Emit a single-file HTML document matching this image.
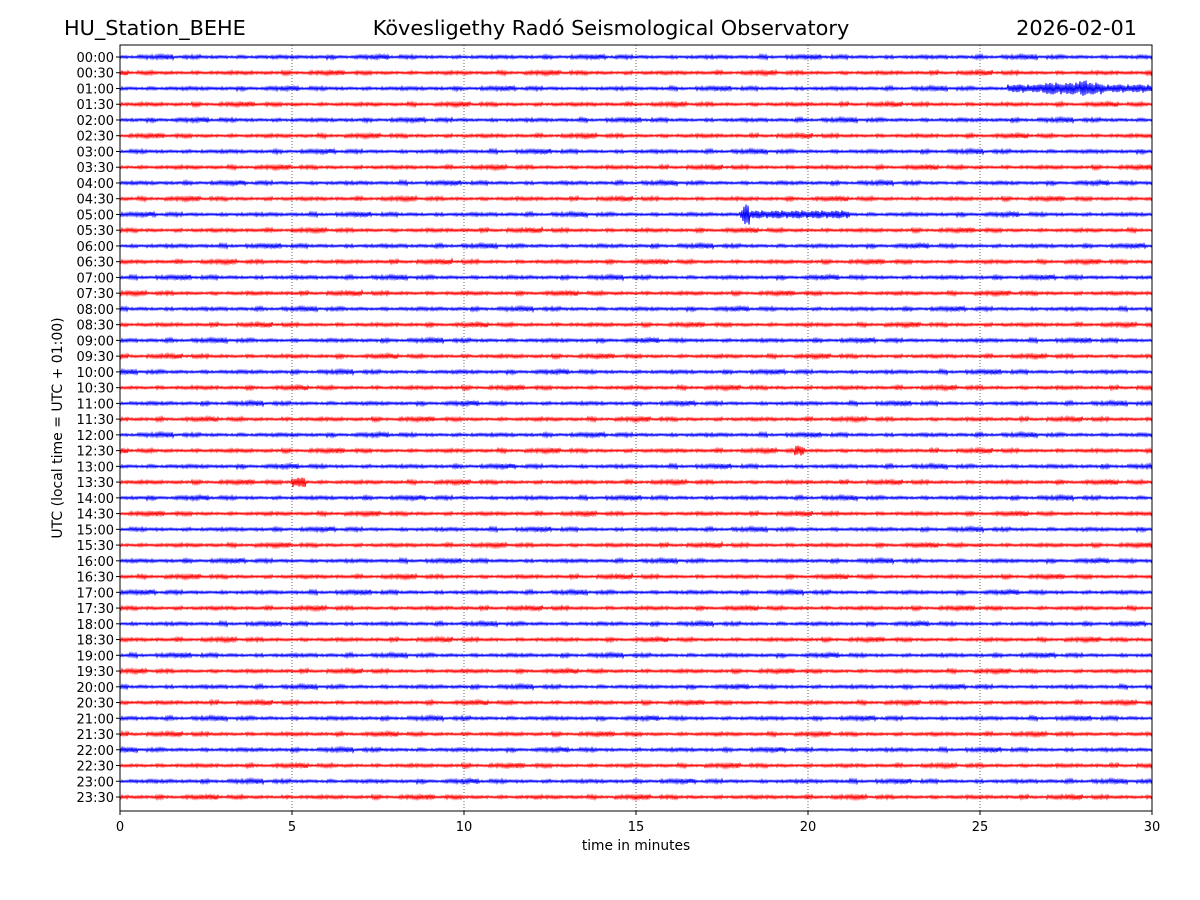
<!DOCTYPE html>
<html><head><meta charset="utf-8"><style>
body{margin:0;background:#fff;}
svg{display:block;font-family:"DejaVu Sans","Liberation Sans",sans-serif;}
</style></head><body>
<svg id="chart" width="1200" height="900" viewBox="0 0 1200 900">
<text x="64" y="35" font-size="20.8">HU_Station_BEHE</text>
<text x="611" y="35" font-size="20.8" text-anchor="middle">Kövesligethy Radó Seismological Observatory</text>
<text x="1137" y="35" font-size="20.8" text-anchor="end">2026-02-01</text>
<g id="grid"></g>
<g id="traces"></g>
<rect x="120" y="45" width="1032" height="766" fill="none" stroke="#000" stroke-width="1"/>
<g id="xticks"></g>
<g id="yticks"></g>
<text x="636" y="850" font-size="13.8" text-anchor="middle">time in minutes</text>
<text transform="translate(62,428) rotate(-90)" font-size="14" text-anchor="middle">UTC (local time = UTC + 01:00)</text>
</svg>
<script>
const xTicks=[0,5,10,15,20,25,30];
const rowLabels=[];
for(let h=0;h<24;h++){for(const m of ["00","30"]){rowLabels.push(String(h).padStart(2,"0")+":"+m);}}
const baseAmp=1.8;
// events: row index, start min, end min, amplitude (px)
const evRow=[2,2,2,10,10,27,25];
const evStart=[25.8,26.8,27.9,18.0,18.1,5.0,19.6];
const evEnd=[30,28.6,28.1,21.2,18.3,5.4,19.9];
const evAmp=[4,6,8,4,11,5,5];
const pattern=[1,0.35,0.8,0.15,0.95,0.5,0.7,0.25,0.6,1,0.3,0.85,0.45,0.2,0.9,0.55,0.4,0.65,0.1,0.75];
const burst=[0.7,1,0.6,0.8,1.3,0.7,0.9,0.6,1.1,0.8,0.7,1.4,0.6,0.9,1,0.7,0.8,1.2,0.6,0.9,0.7,1.1,0.8,1];
const X0=120,X1=1152,Y0=45,Y1=811;
const xs=m=>X0+(m/30)*(X1-X0);
const ys=i=>57+i*(797-57)/47;
const NS="http://www.w3.org/2000/svg";
const grid=document.getElementById("grid"),tr=document.getElementById("traces"),xt=document.getElementById("xticks"),yt=document.getElementById("yticks");
xTicks.forEach(t=>{
 const x=xs(t);
 if(t>0&&t<30){const l=document.createElementNS(NS,"line");
 
 
 l.setAttribute("x1",x);l.setAttribute("x2",x);l.setAttribute("y1",Y0);l.setAttribute("y2",Y1);
 l.setAttribute("stroke","#000");l.setAttribute("stroke-width","0.6");l.setAttribute("stroke-dasharray","1,2");grid.appendChild(l);}
 const k=document.createElementNS(NS,"line");
 
 
 k.setAttribute("x1",x);k.setAttribute("x2",x);k.setAttribute("y1",Y1);k.setAttribute("y2",Y1+4);k.setAttribute("stroke","#000");xt.appendChild(k);
 const tx=document.createElementNS(NS,"text");
 
 
 tx.setAttribute("x",x);tx.setAttribute("y",Y1+20);tx.setAttribute("font-size","13");tx.setAttribute("text-anchor","middle");tx.textContent=t;xt.appendChild(tx);
});
rowLabels.forEach((lab,i)=>{
 const y=ys(i);
 const k=document.createElementNS(NS,"line");
 
 
 k.setAttribute("x1",X0-4);k.setAttribute("x2",X0);k.setAttribute("y1",y);k.setAttribute("y2",y);k.setAttribute("stroke","#000");yt.appendChild(k);
 const tx=document.createElementNS(NS,"text");
 
 
 tx.setAttribute("x",X0-6);tx.setAttribute("y",y+5);tx.setAttribute("font-size","13");tx.setAttribute("text-anchor","end");tx.textContent=lab;yt.appendChild(tx);
 let d="";
 for(let px=0;px<=X1-X0;px+=1){
  const m=px/(X1-X0)*30;
  const b=burst[(Math.floor(px/9)*7+i*11)%burst.length];
  let a=baseAmp*b*(0.5+0.5*pattern[(px*7+i*5)%pattern.length]);
  for(let e=0;e<evRow.length;e++){
   if(evRow[e]===i&&m>=evStart[e]&&m<=evEnd[e]){a=Math.max(a,evAmp[e]*(0.5+0.5*pattern[(px*3+e)%pattern.length]));}
  }
  const s=(px%2?1:-1);
  d+=(px?"L":"M")+(X0+px)+","+(y+s*a).toFixed(1);
 }
 const p=document.createElementNS(NS,"path");
 
 
 p.setAttribute("d",d);p.setAttribute("fill","none");p.setAttribute("stroke",i%2?"#ff0000":"#0000ff");p.setAttribute("stroke-width","1");
 tr.appendChild(p);
});
</script>
</body></html>
